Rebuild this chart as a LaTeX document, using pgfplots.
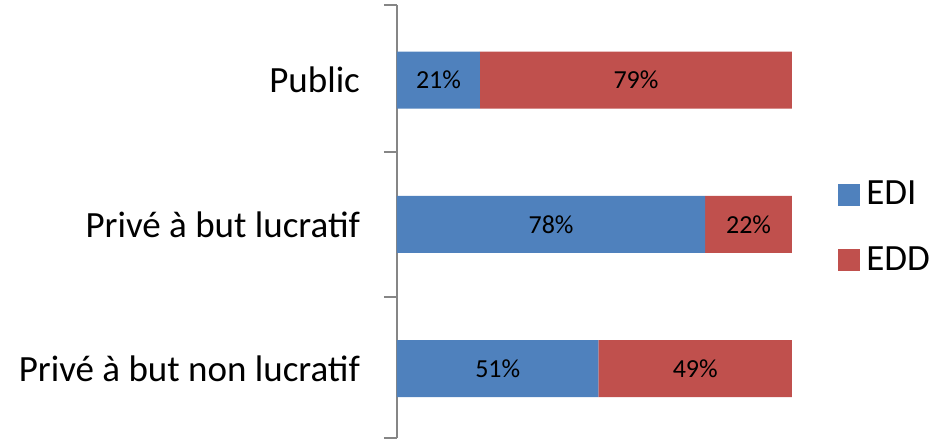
\documentclass[border=0pt]{standalone}
\usepackage{pgfplots}
\pgfplotsset{compat=1.18}
\usepackage{fontspec}
\setmainfont{Carlito}
\definecolor{edi}{HTML}{4F81BD}
\definecolor{edd}{HTML}{C0504D}
\definecolor{axgray}{HTML}{868686}
\begin{document}
\begin{tikzpicture}
\useasboundingbox (0,0) rectangle (472pt,221pt);
\node[anchor=east, inner sep=0pt, font=\fontsize{18.5}{20}\selectfont] at (1.5pt,93pt) {)};
\begin{axis}[
  at={(198.5pt,2pt)}, anchor=south west,
  scale only axis, width=197.5pt, height=216.5pt,
  xmin=0, xmax=100, ymin=-0.48, ymax=2.52,
  xbar stacked, bar width=28.5pt,
  axis x line=none, axis y line*=left,
  axis line style={axgray, line width=1pt},
  ytick={0,1,2},
  yticklabels={Privé à but non lucratif, Privé à but lucratif, Public},
  major tick length=0pt,
  extra y ticks={-0.48,0.5,1.5,2.52}, extra y tick labels={},
  extra y tick style={major tick length=6.5pt, tick align=outside, tick style={axgray, line width=1pt}},
  yticklabel style={font=\fontsize{18.5}{20}\selectfont, xshift=-15pt},
  nodes near coords={\pgfmathprintnumber[assume math mode=true]{\pgfplotspointmeta}\%},
  point meta=rawx,
  every node near coord/.append style={anchor=center, font=\fontsize{13}{15}\selectfont, text=black},
  legend style={at={(1,0.5)}, anchor=west, xshift=23pt, yshift=-3pt, draw=none, fill=none,
     font=\fontsize{18.5}{20}\selectfont, row sep=15.5pt, inner sep=0pt, cells={anchor=west}},
  legend image code/.code={\fill[#1,draw=none] (0pt,-5.5pt) rectangle (11pt,5.5pt);},
]
\addplot[fill=edi, draw=none] coordinates {(51,0) (78,1) (21,2)};
\addplot[fill=edd, draw=none] coordinates {(49,0) (22,1) (79,2)};
\legend{\hspace{1pt}EDI, \hspace{1pt}EDD}
\end{axis}
\end{tikzpicture}
\end{document}
